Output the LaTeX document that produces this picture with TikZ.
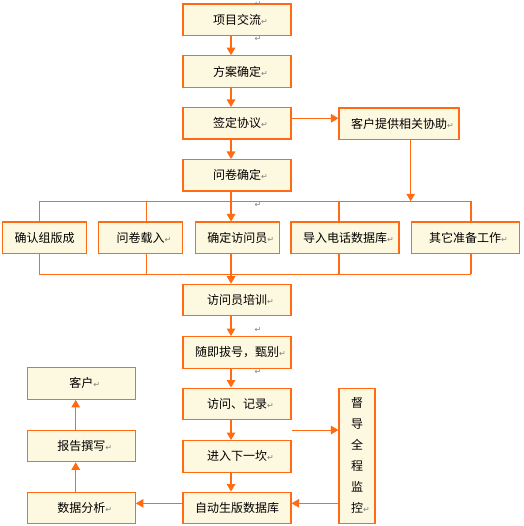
\documentclass[tikz,border=0pt]{standalone}
\usepackage{fontspec}
\usepackage{tikz}
\usetikzlibrary{arrows.meta,positioning,calc}
\newfontfamily\cjk{Noto Sans CJK SC}
\newfontfamily\symfont{DejaVu Sans}
\definecolor{flowline}{HTML}{FF6A13}
\definecolor{flowfill}{HTML}{FDF8E0}
\newcommand\retmk{\rlap{\textcolor{gray}{\symfont\fontsize{8}{8}\selectfont ↵}}}

\begin{document}
\begin{tikzpicture}[
    x=1pt, y=-1pt,
    box/.style={draw=flowline, fill=flowfill, line width=1.1pt, inner sep=0pt,
                minimum width=108pt, minimum height=31.5pt,
                font=\cjk\fontsize{12}{14}\selectfont},
    line/.style={draw=flowline, line width=1.1pt},
    arr/.style={line, -{Triangle[length=7.5pt,width=8.5pt]}},
    retsign/.style={inner sep=0pt, text=gray, font=\symfont\fontsize{8}{8}\selectfont}
]
\useasboundingbox (0,0) rectangle (523,526);

% Main column
\node (xmjl) at (237,19.8) [box] {项目交流\retmk};
\node (fajd) at (237,71.5) [box] {方案确定\retmk};
\node (qdxy) at (237,123.3) [box] {签定协议\retmk};
\node (wjqd) at (237,175.3) [box] {问卷确定\retmk};
\node (khtg) at (399,123.8) [box, minimum width=120pt] {客户提供相关协助\retmk};

% Row of tasks
\node (qrzb) at (44.7,237.8) [box, minimum width=84pt] {确认组版成};
\node (wjzr) at (140.5,237.8) [box, minimum width=84pt] {问卷载入\retmk};
\node (qdfwy) at (237.3,237.8) [box, minimum width=84pt] {确定访问员\retmk};
\node (drdh) at (345,237.8) [box] {导入电话数据库\retmk};
\node (qtzb) at (465.2,237.8) [box] {其它准备工作\retmk};

% Interview steps
\node (fwypx) at (237,300) [box] {访问员培训\retmk};
\node (sjbh) at (237,352.3) [box] {随即拔号，甄别\retmk};
\node (fwjl) at (237,403.8) [box] {访问、记录\retmk};
\node (jrxy) at (237,456.3) [box] {进入下一坎\retmk};
\node (zdsb) at (237,507.8) [box] {自动生版数据库};
\node (ddqc) at (357,455.8) [box, minimum width=36pt, minimum height=135pt,
    align=center, font=\cjk\fontsize{12}{21}\selectfont] {督\\导\\全\\程\\监\\控\retmk};

% Left column
\node (kh) at (81.3,383.3) [box, minimum height=32pt] {客户\retmk};
\node (bgzx) at (81.3,446) [box] {报告撰写\retmk};
\node (sjfx) at (81.3,507.8) [box] {数据分析\retmk};

% Paragraph marks
\node (m1) at (258,3.5) [retsign] {↵};
\node (m2) at (258,39) [retsign] {↵};
\node (m3) at (258,204.5) [retsign] {↵};
\node (m4) at (258,329.5) [retsign] {↵};
\node (m5) at (258,371.5) [retsign] {↵};

% Spine arrows
\coordinate (spine) at (231,0);
\draw [arr] (xmjl.south -| spine) -- (fajd.north -| spine);
\draw [arr] (fajd.south -| spine) -- (qdxy.north -| spine);
\draw [arr] (qdxy.south -| spine) -- (wjqd.north -| spine);
\draw [arr] (wjqd.south -| spine) -- (qdfwy.north -| spine);
\draw [arr] (qdfwy.south -| spine) -- (fwypx.north -| spine);
\draw [arr] (fwypx.south -| spine) -- (sjbh.north -| spine);
\draw [arr] (sjbh.south -| spine) -- (fwjl.north -| spine);
\draw [arr] (fwjl.south -| spine) -- (jrxy.north -| spine);
\draw [arr] (jrxy.south -| spine) -- (zdsb.north -| spine);

% Client help
\draw [arr] ([yshift=5pt]qdxy.east) -- ([yshift=5pt]qdxy.east -| khtg.west);
\coordinate (busA) at (39.3,201.3);
\coordinate (busB) at (471,201.3);
\draw [arr] (khtg.south -| qtzb.west) -- (busB -| qtzb.west);

% Buses
\coordinate (busC) at (39.3,274.3);
\coordinate (busD) at (471,274.3);
\draw [line] (busA) -- (busB);
\draw [line] (busC) -- (busD);
\foreach \x/\b in {39.3/qrzb, 146.3/wjzr, 339/drdh, 471/qtzb}{
    \coordinate (tap) at (\x,201.3);
    \draw [line] (tap) -- (tap |- \b.north);
    \coordinate (tap) at (\x,274.3);
    \draw [line] (tap |- \b.south) -- (tap);
}

% Supervision
\coordinate (jc) at ($(fwjl.south east)!0.5!(jrxy.north east)$);
\draw [arr] (jc) -- (jc -| ddqc.west);
\coordinate (lvl) at (0,503.3);
\draw [arr] (ddqc.west |- lvl) -- (zdsb.east |- lvl);
\draw [arr] (zdsb.west |- lvl) -- (sjfx.east |- lvl);

% Report
\coordinate (lc) at (75.7,0);
\draw [arr] (sjfx.north -| lc) -- (bgzx.south -| lc);
\draw [arr] (bgzx.north -| lc) -- (kh.south -| lc);

\end{tikzpicture}
\end{document}
